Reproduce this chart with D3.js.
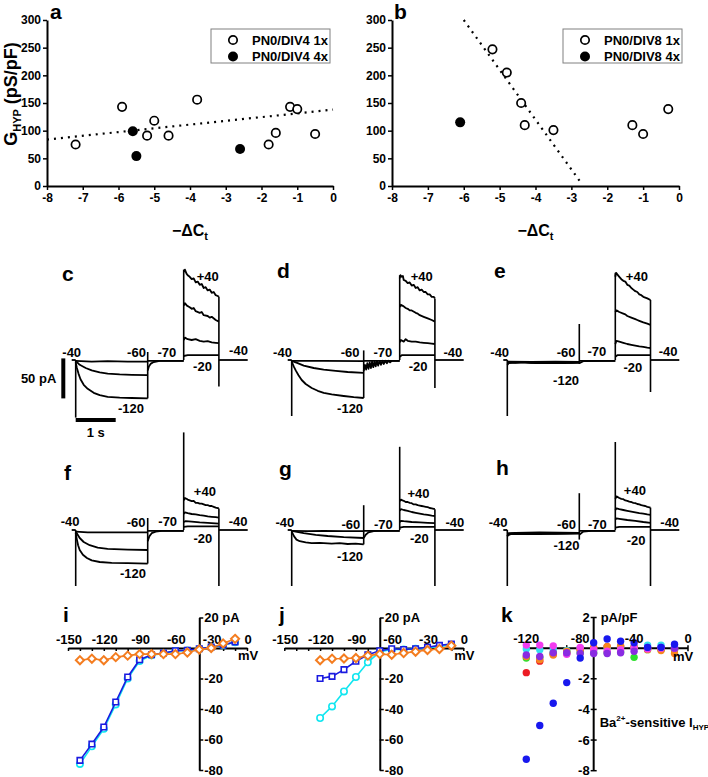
<!DOCTYPE html>
<html><head><meta charset="utf-8">
<script src="https://cdn.jsdelivr.net/npm/d3@7"></script>
<style>
body{margin:0;background:#fff;}
svg{display:block;}
</style></head><body>
<script>
const FONT = "'Liberation Sans', Arial, Helvetica, sans-serif";
const W = 708, H = 777;

// ---------------- DATA ----------------
// panels a & b : G_HYP vs -dCt
const ctTicks = [-8,-7,-6,-5,-4,-3,-2,-1,0];
const gTicks = [0,50,100,150,200,250,300];
const aOpenCt = [-7.2,-5.9,-5.2,-5.0,-4.6,-3.8,-1.8,-1.6,-1.2,-1.0,-0.5];
const aOpenG  = [75,143,91,118,91,156,75,96,143,139,94];
const aFilledCt = [-5.6,-5.5,-2.6];
const aFilledG  = [99,54,67];
const aFitCt = [-8,0];
const aFitG  = [84,138];
const aLegend = ["PN0/DIV4 1x","PN0/DIV4 4x"];
const bOpenCt = [-5.2,-4.8,-4.4,-4.3,-3.5,-1.3,-1.0,-0.3];
const bOpenG  = [247,205,150,110,101,110,94,139];
const bFilledCt = [-6.1];
const bFilledG  = [115];
const bFitCt = [-6.0,-2.7];
const bFitG  = [300,3];
const bLegend = ["PN0/DIV8 1x","PN0/DIV8 4x"];

// panels c-h : voltage protocol times (s) and currents (pA)
const protocolT = {start:0.1, stepOn:0.2, stepOff:2.0, depolOn:2.9, depolOff:3.78, end:4.5};
const midLevel = -1;

const cHyp = [
  [[0.2,-1],[0.6,-2],[1.0,-1.5],[1.5,-2],[2.0,-2]],
  [[0.2,-1],[0.3,-6],[0.45,-10],[0.6,-13],[0.8,-15.5],[1.0,-17],[1.3,-18],[1.6,-18.5],[2.0,-19]],
  [[0.2,-3],[0.23,-10],[0.27,-17],[0.32,-24],[0.4,-31],[0.5,-36],[0.65,-41],[0.8,-44],[1.0,-46],[1.3,-47],[1.6,-47.5],[2.0,-48]]
];
const cTail = [[2.0,-13],[2.03,-8],[2.08,-4.5],[2.15,-2.5],[2.3,-1.2],[2.9,-1]];
const cDep = [
  [[2.9,110],[2.93,113],[2.97,108],[3.0,106],[3.05,104],[3.1,101],[3.15,102],[3.2,97],[3.25,98],[3.3,94],[3.35,95],[3.4,90],[3.45,91],[3.5,87],[3.55,88],[3.6,84],[3.65,85],[3.7,81],[3.75,80],[3.78,79]],
  [[2.9,68],[2.93,71],[2.98,68],[3.05,66],[3.1,64],[3.15,65],[3.2,61],[3.3,59],[3.35,60],[3.4,56],[3.5,55],[3.55,53],[3.6,54],[3.7,50],[3.78,48]],
  [[2.9,25],[2.93,28],[3.0,26],[3.1,25],[3.2,26],[3.3,24],[3.4,23],[3.5,23.5],[3.6,22],[3.7,21.5],[3.78,21]],
  [[2.9,5],[3.0,6],[3.78,6]]
];
const cTrans = [[0.2,0,-72],[2.0,10,-48],[2.9,0,113],[3.78,79,-33]];

const dHyp = [
  [[0.2,-1],[1.0,-1],[2.0,-1.5]],
  [[0.2,-1],[0.35,-4],[0.5,-7],[0.75,-10],[1.0,-12],[1.3,-13.5],[1.6,-15],[2.0,-16]],
  [[0.2,-2],[0.25,-8],[0.3,-13],[0.37,-19],[0.45,-25],[0.55,-30],[0.7,-35],[0.85,-38.5],[1.0,-41],[1.2,-43],[1.5,-45],[1.75,-46.5],[2.0,-47.5]]
];
const dTail = [[2.0,-14],[2.03,-6],[2.06,-12],[2.09,-4],[2.12,-11],[2.15,-3],[2.18,-10],[2.21,-2],[2.24,-9],[2.27,-2],[2.3,-8],[2.33,-1],[2.36,-7],[2.4,-1],[2.43,-6],[2.47,-1],[2.5,-5],[2.54,-1],[2.58,-4],[2.62,-1],[2.66,-3],[2.7,-1],[2.9,-1]];
const dDep = [
  [[2.9,102],[2.92,106],[2.95,104],[2.98,105],[3.0,100],[3.05,99],[3.1,96],[3.15,97],[3.2,93],[3.25,94],[3.3,90],[3.35,91],[3.4,87],[3.45,88],[3.5,85],[3.55,85],[3.6,82],[3.65,82],[3.7,79],[3.75,79],[3.78,77]],
  [[2.9,66],[2.93,69],[3.0,67],[3.05,65],[3.1,64],[3.15,62],[3.2,62],[3.3,59],[3.35,58],[3.4,56],[3.5,54],[3.55,53],[3.6,52],[3.7,50],[3.78,48]],
  [[2.9,22],[2.93,25],[3.0,23],[3.05,26],[3.1,24],[3.2,23],[3.3,23],[3.4,22],[3.5,21.5],[3.6,21],[3.7,20.5],[3.78,20]],
  [[2.9,4],[2.95,6],[3.78,6]]
];
const dTrans = [[0.2,0,-70],[2.0,12,-47.5],[2.9,0,106],[3.78,77,-35]];

const eHyp = [
  [[0.2,-6],[0.25,-3],[0.4,-3.5],[0.6,-2.5],[0.8,-3.5],[1.0,-3],[1.2,-4],[1.5,-2.5],[1.8,-3.5],[2.0,-3]],
  [[0.2,-4],[0.5,-3],[0.9,-4],[1.2,-3.5],[1.6,-4],[2.0,-3.5]],
  [[0.2,-2],[0.8,-2.5],[1.4,-2],[2.0,-2.5]]
];
const eTail = [[2.0,-4],[2.1,-1.5],[2.9,-1]];
const eDep = [
  [[2.9,104],[2.92,109],[2.95,107],[3.0,104],[3.05,101],[3.1,99],[3.15,98],[3.2,94],[3.25,93],[3.3,90],[3.35,88],[3.4,86],[3.45,85],[3.5,82],[3.55,81],[3.6,79],[3.65,78],[3.7,77],[3.78,75]],
  [[2.9,60],[2.93,62],[3.0,60],[3.1,58],[3.15,57],[3.2,55],[3.3,53],[3.4,51],[3.45,50],[3.5,49],[3.6,47],[3.7,45.5],[3.78,44]],
  [[2.9,20],[2.93,24],[3.0,23],[3.1,21.5],[3.2,20],[3.3,19],[3.4,18],[3.5,17],[3.6,16.5],[3.7,15.5],[3.78,15]],
  [[2.9,4],[2.95,6],[3.78,6]]
];
const eTrans = [[0.2,0,-70],[2.0,45,-5],[2.9,0,109],[3.78,75,-40]];

const fHyp = [
  [[0.2,-2],[0.5,-3],[1.0,-3],[2.0,-3]],
  [[0.2,-2],[0.25,-6],[0.3,-10],[0.4,-15],[0.55,-19],[0.75,-22],[1.0,-23.5],[1.5,-24.5],[2.0,-25]],
  [[0.2,-4],[0.23,-12],[0.26,-19],[0.3,-25],[0.38,-31],[0.48,-35],[0.6,-38],[0.8,-40],[1.1,-41],[1.5,-41.5],[2.0,-42]]
];
const fTail = [[2.0,-14],[2.04,-8],[2.1,-4],[2.2,-2],[2.35,-1],[2.9,-1]];
const fDep = [
  [[2.9,37],[2.93,40],[2.97,39],[3.0,38],[3.05,37],[3.1,36],[3.15,36.5],[3.2,34],[3.25,34],[3.3,33],[3.35,33],[3.4,32],[3.45,31],[3.5,31],[3.55,30],[3.6,30],[3.65,29],[3.7,28],[3.78,27]],
  [[2.9,20],[2.93,22],[3.0,21],[3.1,20],[3.2,19.5],[3.3,18.5],[3.4,18],[3.5,17],[3.6,16.5],[3.7,16],[3.78,15.5]],
  [[2.9,10],[2.95,11],[3.1,10.5],[3.3,9.5],[3.5,9],[3.78,8]],
  [[2.9,4],[3.0,4.5],[3.78,4.5]]
];
const fTrans = [[0.2,0,-70],[2.0,15,-42],[2.9,0,122],[3.78,27,-70]];

const gHyp = [
  [[0.2,-1],[0.6,-1.5],[1.0,-1],[1.5,-1.5],[2.0,-1.5]],
  [[0.2,-1],[0.5,-4],[0.8,-6],[1.1,-7.5],[1.5,-9],[2.0,-10]],
  [[0.2,-2],[0.26,-8],[0.32,-12],[0.4,-14],[0.55,-15.5],[0.7,-16.5],[0.9,-16],[1.2,-17],[1.4,-16.5],[1.6,-17.5],[1.8,-17],[2.0,-18]]
];
const gTail = [[2.0,-10],[2.05,-6],[2.12,-3],[2.25,-1.5],[2.45,-1],[2.9,-1]];
const gDep = [
  [[2.9,36],[2.93,38],[2.97,37],[3.0,36.5],[3.05,35],[3.1,35],[3.15,34],[3.2,33.5],[3.25,32],[3.3,32],[3.35,31],[3.4,30.5],[3.45,30],[3.5,29.5],[3.55,29],[3.6,28.5],[3.65,27.5],[3.7,27],[3.78,26]],
  [[2.9,24],[2.93,26],[3.0,25],[3.1,24],[3.2,22.5],[3.3,21.5],[3.4,20.5],[3.5,19.5],[3.6,19],[3.7,18],[3.78,17.5]],
  [[2.9,10],[2.93,11.5],[3.0,11],[3.2,10],[3.4,9.5],[3.6,9],[3.78,8.5]],
  [[2.9,3],[3.0,4],[3.78,4]]
];
const gTrans = [[0.2,0,-70],[2.0,31,-18],[2.9,0,104],[3.78,26,-70]];

const hHyp = [
  [[0.2,-8],[0.23,-4],[0.4,-3.5],[1.0,-3],[2.0,-3.5]],
  [[0.2,-6],[0.3,-4.5],[0.8,-4],[1.4,-4.5],[2.0,-4]],
  [[0.2,-7],[0.3,-5],[1.0,-5],[2.0,-4.5]]
];
const hTail = [[2.0,-6],[2.1,-2],[2.3,-1],[2.9,-1]];
const hDep = [
  [[2.9,39],[2.93,42],[2.97,41],[3.0,40],[3.05,39],[3.1,38.5],[3.15,37],[3.2,36.5],[3.25,35.5],[3.3,35],[3.35,34],[3.4,33.5],[3.45,32.5],[3.5,32],[3.55,31],[3.6,30.5],[3.65,30],[3.7,29],[3.78,28]],
  [[2.9,25],[2.93,27],[3.0,26],[3.1,25],[3.2,24],[3.3,23],[3.4,22],[3.5,21],[3.6,20.5],[3.7,19.5],[3.78,19]],
  [[2.9,13],[2.93,14.5],[3.0,14],[3.2,12.5],[3.4,11.5],[3.6,10],[3.78,9]],
  [[2.9,3],[3.0,4],[3.78,4]]
];
const hTrans = [[0.2,0,-70],[2.0,46,-12],[2.9,0,110],[3.78,28,-70]];

// step labels (mV) anchored at [time, current]
const cLabels = [["-40",0.1,10],["-60",1.72,10],["-70",2.48,10],["+40",3.5,104],["-40",4.27,12],["-20",3.37,-8.5],["-120",1.58,-61]];
const dLabels = [["-40",-0.03,9],["-60",1.66,9],["-70",2.48,9],["+40",3.45,104],["-40",4.23,10],["-20",3.36,-8],["-120",1.66,-61]];
const eLabels = [["-40",0.01,9],["-60",1.67,9],["-120",1.67,-25],["-70",2.44,11],["+40",3.44,104],["-40",4.22,11],["-20",3.34,-9.5]];
const fLabels = [["-40",0.06,11],["-60",1.71,9],["-70",2.5,11],["+40",3.43,48],["-40",4.26,11],["-20",3.38,-10],["-120",1.63,-54]];
const gLabels = [["-40",0.03,10],["-60",1.68,7],["-70",2.49,7],["+40",3.37,46],["-40",4.28,9],["-20",3.39,-10],["-120",1.66,-33]];
const hLabels = [["-40",-0.03,9],["-60",1.68,7],["-120",1.68,-19],["-70",2.45,7],["+40",3.39,50],["-40",4.26,10],["-20",3.42,-13]];
const scaleBarPA = 50, scaleBarS = 1;

// panels i & j : I-V (pA)
const ivTicks = [-150,-120,-90,-60,-30,0];
const ivYTicks = [20,0,-20,-40,-60,-80];
const iMV = [-140,-130,-120,-110,-100,-90,-80,-70,-60,-50,-40,-30,-20,-10];
const iOrange = [-8,-7,-8,-6,-5,-4,-4,-4,-4,-3,-1,0,3,6];
const iBlue = [-73.7,-63,-51.8,-35.4,-19,-7.7,-4.4,-3.3,-1.8,-1.5,-0.5,0.7,2,4];
const iCyan = [-76,-64.5,-53,-37,-20,-8.5,-4.8,-3.5,-2,-1.7,-0.7,0.5,1.8,3.8];
const jMV = [-120,-110,-100,-90,-80,-70,-60,-50,-40,-30,-20,-10];
const jOrange = [-8,-7,-6.9,-6.6,-5,-4,-4.4,-3.3,-2.4,-1.3,-0.6,1.5];
const jBlue = [-20,-18.6,-14.2,-8.7,-4.4,-1.8,-0.5,-1,-0.5,0.5,1.7,2.6];
const jCyan = [-45.9,-38.3,-28.5,-19,-9.4,-2.5,-1,-1,-0.5,0,1,2];

// panel k : Ba2+-sensitive I_HYP (pA/pF)
const kMV = [-120,-110,-100,-90,-80,-70,-60,-50,-40,-30,-20,-10];
const kXTicks = [-120,-80,-40,0];
const kYTicks = [2,-2,-4,-6,-8];
const kRed     = [-1.6,-0.85,-0.4,-0.35,-0.1,0,0.1,0.1,0.05,0,-0.05,-0.1];
const kGreen   = [-0.65,-0.6,-0.3,-0.25,-0.3,-0.3,-0.3,-0.25,-0.6,-0.1,-0.1,-0.1];
const kCyan    = [-0.05,-0.1,-0.05,-0.15,0,-0.1,0,0.05,0.1,0.2,0.2,0.1];
const kOrange  = [-0.55,-0.75,-0.45,-0.2,-0.1,0.05,0.1,0.15,0.1,-0.1,-0.15,-0.35];
const kMagenta = [0.2,0.2,0.15,-0.4,0.05,-0.1,-0.2,-0.1,0,-0.05,0,0];
const kPurple  = [-0.45,-0.55,-0.3,-0.3,-0.35,-0.35,-0.35,-0.3,-0.2,0.05,0.05,0];
const kBlue    = [-7.25,-5.05,-3.6,-2.25,-0.65,0.35,0.6,0.45,0.35,0.05,0.05,0.25];

// ---------------- DRAW ----------------
const svg = d3.select("body").append("svg").attr("width",W).attr("height",H)
  .style("font-family",FONT).style("font-weight","bold");
svg.append("rect").attr("width",W).attr("height",H).attr("fill","#fff");

function styleAxis(a, fs){
  a.attr("font-family",FONT).attr("font-weight","bold").attr("font-size",fs);
  a.select(".domain").attr("stroke","#000").attr("stroke-width",2);
  a.selectAll(".tick line").attr("stroke","#000").attr("stroke-width",1.5);
  a.selectAll(".tick text").attr("fill","#000");
}
const fmt = d => String(d);

function scatter(o){
  const x = d3.scaleLinear().domain([-8,0]).range([o.left,o.right]);
  const y = d3.scaleLinear().domain([0,300]).range([186,20]);
  const xa = svg.append("g").attr("transform",`translate(0,${y(0)})`)
    .call(d3.axisBottom(x).tickValues(ctTicks).tickSize(4).tickSizeOuter(0).tickPadding(3).tickFormat(fmt));
  const ya = svg.append("g").attr("transform",`translate(${x(-8)},0)`)
    .call(d3.axisLeft(y).tickValues(gTicks).tickSize(4).tickSizeOuter(0).tickPadding(2).tickFormat(fmt));
  styleAxis(xa,12); styleAxis(ya,12);
  const line = d3.line().x(d=>x(d[0])).y(d=>y(d[1]));
  svg.append("path").datum(d3.zip(o.fitX,o.fitY)).attr("d",line)
    .attr("fill","none").attr("stroke","#000").attr("stroke-width",2.2).attr("stroke-dasharray","2,5");
  svg.append("g").selectAll("circle").data(d3.zip(o.openX,o.openY)).join("circle")
    .attr("cx",d=>x(d[0])).attr("cy",d=>y(d[1])).attr("r",4.2)
    .attr("fill","#fff").attr("stroke","#000").attr("stroke-width",1.7);
  svg.append("g").selectAll("circle").data(d3.zip(o.filledX,o.filledY)).join("circle")
    .attr("cx",d=>x(d[0])).attr("cy",d=>y(d[1])).attr("r",5).attr("fill","#000");
  // legend
  const lg = svg.append("g").attr("transform",`translate(${o.legX},29)`);
  lg.append("rect").attr("width",119).attr("height",34).attr("fill","#fff").attr("stroke","#808080").attr("stroke-width",1);
  lg.selectAll("circle").data(o.legend).join("circle")
    .attr("cx",22).attr("cy",(d,i)=>11+i*16.5).attr("r",(d,i)=>i?5:4.2)
    .attr("fill",(d,i)=>i?"#000":"#fff").attr("stroke","#000").attr("stroke-width",(d,i)=>i?0:1.7);
  lg.selectAll("text").data(o.legend).join("text")
    .attr("x",41).attr("y",(d,i)=>11+i*16.5).attr("dy","0.36em")
    .attr("font-size",13).text(d=>d);
  // x title
  const xt = svg.append("text").attr("x",(o.left+o.right)/2).attr("y",236)
    .attr("text-anchor","middle").attr("font-size",16);
  xt.append("tspan").text("\u2212\u0394C");
  xt.append("tspan").attr("font-size",11).attr("dy",4).text("t");
}
scatter({left:47,right:333,openX:aOpenCt,openY:aOpenG,filledX:aFilledCt,filledY:aFilledG,fitX:aFitCt,fitY:aFitG,legend:aLegend,legX:211});
scatter({left:392,right:679,openX:bOpenCt,openY:bOpenG,filledX:bFilledCt,filledY:bFilledG,fitX:bFitCt,fitY:bFitG,legend:bLegend,legX:563});

// y title panel a
const yt = svg.append("text").attr("transform","translate(17,94) rotate(-90)")
  .attr("text-anchor","middle").attr("font-size",18);
yt.append("tspan").text("G");
yt.append("tspan").attr("font-size",11).attr("dy",4).text("HYP");
yt.append("tspan").attr("dy",-4).text(" (pS/pF)");

// trace panels
function tracePanel(o){
  const x = d3.scaleLinear().domain([0,1]).range([o.x0,o.x0+40]);
  const y = d3.scaleLinear().domain([0,-1]).range([o.base,o.base+0.8]);
  const line = d3.line().x(d=>x(d[0])).y(d=>y(d[1]));
  const g = svg.append("g").attr("fill","none").attr("stroke","#000").attr("stroke-width",1.8)
    .attr("stroke-linejoin","round").attr("stroke-linecap","butt");
  const P = protocolT;
  const segs = [
    [[P.start,0],[P.stepOn,0]],
    [[P.stepOff,midLevel],[P.depolOn,midLevel]],
    [[P.depolOff,0],[P.end,0]],
    o.tail, ...o.hyp, ...o.dep
  ];
  g.selectAll("path.tr").data(segs).join("path").attr("class","tr").attr("d",line);
  g.selectAll("line").data(o.trans).join("line").attr("stroke-width",1.6)
    .attr("x1",d=>x(d[0])).attr("x2",d=>x(d[0])).attr("y1",d=>y(d[1])).attr("y2",d=>y(d[2]));
  svg.append("g").selectAll("text").data(o.labels).join("text")
    .attr("x",d=>x(d[1])).attr("y",d=>y(d[2])).attr("dy","0.36em")
    .attr("text-anchor","middle").attr("font-size",13).text(d=>d[0]);
  return {x,y};
}
const sc = tracePanel({x0:67.7,base:360,hyp:cHyp,tail:cTail,dep:cDep,trans:cTrans,labels:cLabels});
tracePanel({x0:283.7,base:360,hyp:dHyp,tail:dTail,dep:dDep,trans:dTrans,labels:dLabels});
tracePanel({x0:499.3,base:360,hyp:eHyp,tail:eTail,dep:eDep,trans:eTrans,labels:eLabels});
tracePanel({x0:67.7,base:530,hyp:fHyp,tail:fTail,dep:fDep,trans:fTrans,labels:fLabels});
tracePanel({x0:283.7,base:530,hyp:gHyp,tail:gTail,dep:gDep,trans:gTrans,labels:gLabels});
tracePanel({x0:499.3,base:530,hyp:hHyp,tail:hTail,dep:hDep,trans:hTrans,labels:hLabels});

// scale bars (panel c scales)
svg.append("line").attr("x1",sc.x(-0.11)).attr("x2",sc.x(-0.11))
  .attr("y1",sc.y(2)).attr("y2",sc.y(2-scaleBarPA)).attr("stroke","#000").attr("stroke-width",4);
svg.append("line").attr("x1",sc.x(0.2)).attr("x2",sc.x(0.2+scaleBarS))
  .attr("y1",sc.y(-75)).attr("y2",sc.y(-75)).attr("stroke","#000").attr("stroke-width",4);
svg.append("text").attr("x",sc.x(-0.11)-7).attr("y",sc.y(2-scaleBarPA/2)).attr("dy","0.36em")
  .attr("text-anchor","end").attr("font-size",13).text(scaleBarPA+" pA");
svg.append("text").attr("x",sc.x(0.2+scaleBarS/2)).attr("y",437)
  .attr("text-anchor","middle").attr("font-size",13).text(scaleBarS+" s");

// I-V panels
const symSquare = d3.symbol().type(d3.symbolSquare).size(30);
const symDiamond = d3.symbol().type(d3.symbolDiamond2 || d3.symbolDiamond).size(42);
function ivPanel(o){
  const x = d3.scaleLinear().domain([-150,0]).range(o.xr);
  const y = d3.scaleLinear().domain([-80,20]).range([770,617.5]);
  const cx = x(o.cross);
  const xa = svg.append("g").attr("transform",`translate(0,${y(0)})`)
    .call(d3.axisBottom(x).tickValues(d3.range(-150,1,10)).tickSize(3).tickSizeOuter(0).tickFormat(""));
  styleAxis(xa,13);
  svg.append("g").selectAll("text").data(ivTicks).join("text")
    .attr("x",d=>x(d)+1).attr("y",y(0)-4).attr("text-anchor","middle").attr("font-size",13).text(fmt);
  svg.append("text").attr("x",x(0)-9).attr("y",y(0)+12).attr("font-size",13).text("mV");
  const ya = svg.append("g").attr("transform",`translate(${cx},0)`)
    .call(d3.axisRight(y).tickValues(ivYTicks).tickSize(4).tickSizeOuter(0).tickPadding(1)
      .tickFormat(d=>d===20?"20 pA":(d===0?"":String(d))));
  styleAxis(ya,13);
  const line = d3.line().x(d=>x(d[0])).y(d=>y(d[1]));
  const series = [
    {v:o.cyan,c:"#11e6f0",sym:"circle"},
    {v:o.blue,c:"#1a1ae0",sym:"square"},
    {v:o.orange,c:"#f47d20",sym:"diamond"}
  ];
  series.forEach(s=>{
    const pts = d3.zip(o.mv,s.v);
    svg.append("path").datum(pts).attr("d",line).attr("fill","none").attr("stroke",s.c).attr("stroke-width",1.6);
    const gp = svg.append("g");
    if(s.sym==="circle"){
      gp.selectAll("circle").data(pts).join("circle").attr("cx",d=>x(d[0])).attr("cy",d=>y(d[1])).attr("r",3.2)
        .attr("fill","#fff").attr("stroke",s.c).attr("stroke-width",1.6);
    } else {
      gp.selectAll("path").data(pts).join("path")
        .attr("transform",d=>`translate(${x(d[0])},${y(d[1])})`)
        .attr("d",s.sym==="square"?symSquare():symDiamond())
        .attr("fill","#fff").attr("stroke",s.c).attr("stroke-width",s.sym==="square"?1.6:2);
    }
  });
}
ivPanel({xr:[68,247],cross:-40,mv:iMV,orange:iOrange,blue:iBlue,cyan:iCyan});
ivPanel({xr:[284.3,463.3],cross:-70,mv:jMV,orange:jOrange,blue:jBlue,cyan:jCyan});

// panel k
(function(){
  const x = d3.scaleLinear().domain([-120,0]).range([526.3,688]);
  const y = d3.scaleLinear().domain([-8,2]).range([770.7,617.5]);
  const cx = x(-70), cy = y(0);
  const g = svg.append("g").attr("stroke","#000");
  g.append("line").attr("x1",x(-120)).attr("x2",x(0)).attr("y1",cy).attr("y2",cy).attr("stroke-width",2);
  g.append("line").attr("x1",cx).attr("x2",cx).attr("y1",y(2)).attr("y2",y(-8)).attr("stroke-width",2);
  g.selectAll("line.xt").data(d3.range(-120,1,10)).join("line").attr("class","xt")
    .attr("x1",d=>x(d)).attr("x2",d=>x(d)).attr("y1",cy-3).attr("y2",cy+3).attr("stroke-width",1.5);
  g.selectAll("line.yt").data([2,0,-2,-4,-6,-8]).join("line").attr("class","yt")
    .attr("x1",cx-3).attr("x2",cx+3).attr("y1",d=>y(d)).attr("y2",d=>y(d)).attr("stroke-width",1.5);
  const series = [
    {v:kRed,c:"#ec1c24"},{v:kGreen,c:"#2ee02e"},{v:kCyan,c:"#33e0f0"},{v:kOrange,c:"#f7861f"},
    {v:kMagenta,c:"#f23cf0"},{v:kPurple,c:"#8a2be2"},{v:kBlue,c:"#1818ee"}
  ];
  series.forEach(s=>{
    svg.append("g").selectAll("circle").data(d3.zip(kMV,s.v)).join("circle")
      .attr("cx",d=>x(d[0])).attr("cy",d=>y(d[1])).attr("r",3.7).attr("fill",s.c);
  });
  svg.append("g").selectAll("text").data(kXTicks).join("text")
    .attr("x",d=>x(d)).attr("y",cy-5).attr("text-anchor","middle").attr("font-size",13).text(fmt);
  svg.append("g").selectAll("text").data(kYTicks).join("text")
    .attr("x",cx-4).attr("y",d=>y(d)).attr("dy","0.36em").attr("text-anchor","end").attr("font-size",13).text(fmt);
  svg.append("text").attr("x",cx+7).attr("y",y(2)).attr("dy","0.36em").attr("font-size",13).text("pA/pF");
  svg.append("text").attr("x",x(0)-15).attr("y",cy+13).attr("font-size",13).text("mV");
  const t = svg.append("text").attr("x",cx+6).attr("y",727).attr("font-size",13);
  t.append("tspan").text("Ba");
  t.append("tspan").attr("font-size",8).attr("dy",-6).text("2+");
  t.append("tspan").attr("dy",6).text("-sensitive I");
  t.append("tspan").attr("font-size",8).attr("dy",3).text("HYP");
})();

// panel letters
const letters = [["a",50,19],["b",394,19],["c",62,281],["d",277,278],["e",494,278],["f",64,480],["g",279,476],["h",496,475],["i",63,622],["j",279,622],["k",501,622]];
svg.append("g").selectAll("text").data(letters).join("text")
  .attr("x",d=>d[1]).attr("y",d=>d[2]).attr("font-size",21).text(d=>d[0]);
</script></body></html>
